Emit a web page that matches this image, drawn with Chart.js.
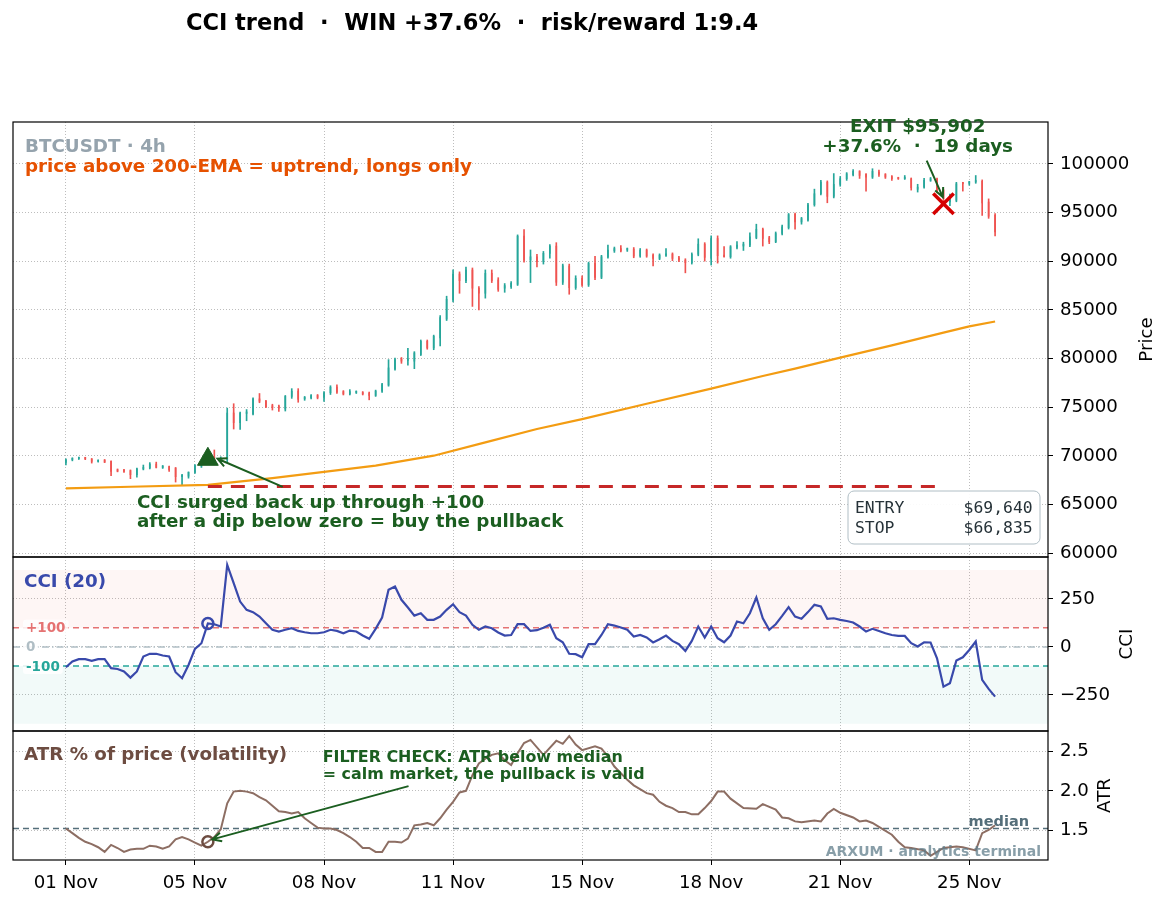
<!DOCTYPE html>
<html>
<head>
<meta charset="utf-8">
<script src="https://cdn.jsdelivr.net/npm/chart.js@4.4.1/dist/chart.umd.min.js"></script>
<style>
  html, body { margin: 0; padding: 0; background: #fff; }
  #wrap { position: relative; width: 1167px; height: 903px; }
  #title { position: absolute; left: 0; top: 8px; width: 944px; text-align: center;
           font: bold 22.5px "DejaVu Sans", sans-serif; color: #000; white-space: pre; line-height: 28px; }
  canvas { position: absolute; left: 0; top: 0; }
</style>
</head>
<body>
<div id="wrap">
  <canvas id="chart" width="1167" height="903"></canvas>
  <div id="title">CCI trend  ·  WIN +37.6%  ·  risk/reward 1:9.4</div>
</div>
<script>
// x axis: one slot per 4h candle, labelled every 20 candles
const tickIdx = [0, 20, 40, 60, 80, 100, 120, 140];
const tickLabels = ["01 Nov", "05 Nov", "08 Nov", "11 Nov", "15 Nov", "18 Nov", "21 Nov", "25 Nov"];

// BTCUSDT 4h candles
const opens = [
  69320,69590,69700,69800,69680,69420,69560,69420,68550,68520,
  68480,68050,68650,68750,69150,68800,68880,68740,67850,67900,
  68300,68950,69350,69640,69450,69600,74400,73400,74350,74300,
  75850,75600,75150,75100,74800,76100,76650,75850,75980,76200,
  75990,76480,77050,76600,76350,76500,76500,76450,76200,76650,
  77260,78900,79950,79800,79720,80400,81760,81080,82100,84050,
  86020,88680,88000,89090,87220,86700,88750,88070,87220,87390,
  87620,92570,90110,90450,89950,90800,91550,87830,89500,87280,
  88240,87560,89770,88340,90400,91060,91300,91150,91240,90520,
  91140,90620,90280,90600,90730,90350,90110,89840,90700,91750,
  90290,92330,90620,90450,91400,91550,91650,92430,93280,92400,
  91990,92840,93450,94820,94030,94200,95800,96930,98120,96660,
  97890,98470,98880,99220,98910,98640,99150,98910,98700,98530,
  98470,98470,97380,97610,98300,98470,97270,96080,96250,98050,
  98000,98130,98200,96080,94710
];
const highs = [
  69700,69800,69860,69850,69720,69560,69620,69480,68650,68600,
  68550,68750,69050,69300,69350,69000,68950,68800,68100,68350,
  69100,69500,69800,70600,69900,74900,75350,74500,74750,75950,
  76400,75700,75300,75200,76200,76900,76900,76100,76300,76300,
  76600,77200,77300,76700,76800,76650,76600,76550,76750,77450,
  79880,80050,80100,81050,80700,81900,81900,82400,84400,86400,
  89100,88900,89400,89300,87400,89100,89100,88300,87700,87900,
  92700,93250,91150,90700,91000,91700,91900,89700,89700,88500,
  88500,89900,90500,90600,91650,91450,91600,91350,91400,91300,
  91250,90750,90750,91300,90850,90500,90250,90850,92300,91900,
  92600,92600,91500,91600,92000,91950,92900,93800,93400,92550,
  93000,93700,94900,94950,94500,95950,97400,98300,98250,99000,
  98700,99100,99400,99300,99000,99500,99350,99000,98800,98600,
  98800,98550,97900,98500,98600,98550,97400,96900,98100,98100,
  98200,98800,98350,96400,94900
];
const lows = [
  69050,69480,69620,69600,69250,69350,69300,67950,68350,68300,
  67650,67800,68550,68650,68750,68700,68400,67300,66950,67700,
  68200,68800,69200,69300,69350,69300,72750,72700,73600,74200,
  75450,74950,74700,74550,74600,75900,75500,75700,75850,75850,
  75600,76300,76400,76250,76250,76400,76250,75750,76100,76500,
  77150,78800,79500,79300,78950,80300,80950,80900,81300,83900,
  85800,86700,87800,85350,85000,86200,87800,86900,86800,87200,
  87500,89900,87800,89400,89700,90300,87500,87600,86600,87100,
  87400,87400,88100,88200,90300,90900,90950,91000,90350,90400,
  90400,89500,90150,90500,90050,89950,88800,89700,90550,90000,
  89600,89800,90400,90300,91250,91100,91500,92300,91550,91800,
  91900,92700,93300,93300,93800,94100,95650,96800,96000,96500,
  97700,98300,98750,98500,97200,98500,98700,98500,98300,98400,
  98400,97300,97100,97500,98200,97000,96100,95700,96100,97200,
  97800,98000,94700,94400,92600
];
const closes = [
  69590,69700,69800,69680,69420,69480,69350,68400,68420,68400,
  68050,68650,68800,69150,68800,68880,68560,67850,67920,68300,
  69000,69350,69640,69450,69700,74400,73400,74400,74500,75850,
  75600,75050,74950,74900,76100,76640,75800,76000,76200,75990,
  76480,77050,76550,76350,76600,76520,76350,76200,76650,77330,
  79030,79880,79720,79900,80570,81760,81080,82270,84210,86090,
  88680,88000,89090,87220,86700,88750,88000,87100,87490,87730,
  92570,90110,90450,89950,90800,91550,87830,89530,87280,88240,
  87560,89770,88340,90450,91140,91300,91060,91200,90520,91140,
  90520,90280,90620,90700,90280,90110,89840,90700,91750,90390,
  92330,90560,90450,91480,91650,91750,92500,93280,92330,91990,
  92840,93520,94780,94030,94380,95800,96930,98120,96660,97890,
  98470,98980,99220,98810,98640,99220,98910,98640,98470,98470,
  98500,97550,97610,98300,98470,97200,96420,96760,97950,97950,
  98130,98300,95980,94610,93010
];

// 200-EMA read at a few candles
const emaX = [0, 10, 22, 32, 48, 57, 65, 73, 80, 90, 100, 108, 113, 120, 128, 136, 140, 144];
const emaY = [66650, 66820, 67010, 67700, 68990, 70010, 71380, 72750, 73770, 75350, 76900, 78200, 78950, 80090, 81350, 82650, 83300, 83800];

// CCI(20), one value per candle
const cci = [
  -106,-76,-64,-64,-73,-64,-64,-111,-115,-128,
  -160,-128,-50,-36,-36,-45,-50,-132,-163,-94,
  -10,19,122,118,106,427,332,236,193,181,
  158,123,89,80,89,97,83,76,71,71,
  76,89,83,71,85,80,59,42,94,153,
  297,314,245,205,163,175,141,141,158,193,
  222,181,163,115,89,106,97,75,59,62,
  118,118,83,87,100,115,45,24,-36,-38,
  -54,14,14,62,118,111,101,89,54,62,
  49,23,40,59,31,14,-21,31,106,49,
  106,45,24,59,132,123,175,257,149,89,
  118,161,207,158,146,181,219,210,146,149,
  141,135,127,106,80,94,83,71,62,57,
  57,19,2,24,23,-59,-207,-189,-71,-54,
  -16,28,-172,-219,-259
];
const cciLevels = [100, 0, -100];

// ATR % of price
const atrX = [
  0,1,2,3,4,5,6,7,8,9,10,11,12,13,14,15,16,17,18,19,20,21,22,23,24,25,26,27,28,29,
  30,31,32,33,34,35,36,37,38,39,40,41,42,43,44,45,46,47,48,49,50,51,52,53,54,55,56,57,58,59,
  60,61,62,63,64,65,66,67,68,69,70,71,72,74,76,77,78,79,80,82,83,84,85,87,88,90,91,92,93,94,
  95,96,97,98,99,100,101,102,103,105,107,108,110,111,112,113,114,116,117,118,119,120,122,123,124,
  125,126,128,129,130,131,133,134,135,136,138,139,141,142,143,144
];
const atrY = [
  1.52,1.46,1.40,1.35,1.32,1.28,1.22,1.31,1.27,1.22,1.25,1.26,1.26,1.30,1.29,1.26,1.29,1.38,1.41,1.38,1.34,1.30,1.35,1.41,1.51,1.84,1.99,2.00,1.99,1.97,
  1.92,1.88,1.81,1.74,1.73,1.71,1.73,1.65,1.59,1.53,1.52,1.52,1.50,1.46,1.41,1.35,1.27,1.27,1.22,1.22,1.35,1.35,1.34,1.39,1.56,1.57,1.59,1.56,1.65,1.76,
  1.86,1.98,2.00,2.20,2.35,2.41,2.46,2.48,2.39,2.33,2.48,2.61,2.65,2.46,2.64,2.60,2.70,2.59,2.52,2.57,2.54,2.44,2.31,2.14,2.07,1.97,1.95,1.86,1.81,1.78,
  1.73,1.73,1.70,1.70,1.78,1.87,1.99,1.99,1.90,1.78,1.77,1.83,1.76,1.66,1.65,1.61,1.60,1.62,1.61,1.71,1.77,1.72,1.66,1.61,1.62,
  1.59,1.54,1.44,1.35,1.28,1.27,1.24,1.17,1.22,1.27,1.29,1.28,1.24,1.46,1.50,1.56
];
const atrMedian = 1.52;

// trade
const entryIdx = 22, entryPrice = 69640, stopPrice = 66835;
const exitIdx = 136, exitPrice = 95902;

const FONT = '"DejaVu Sans", sans-serif';
const UP = "#26a69a", DOWN = "#ef5350";
const DARK_GREEN = "#1b5e20";
const X_MIN = -8.2, X_MAX = 152.2;
const GRID = "#bdbdbd";
const TXT = 18.3;

const candleColors = closes.map((c, i) => (c >= opens[i] ? UP : DOWN));
const wickData = closes.map((c, i) => ({ x: i, y: [lows[i], highs[i]] }));
const bodyData = closes.map((c, i) => ({ x: i, y: [opens[i], c] }));

function hline(y, axis, color, dash, width, order) {
  return {
    type: "line", yAxisID: axis, order: order,
    data: [{ x: X_MIN, y: y }, { x: X_MAX, y: y }],
    borderColor: color, borderDash: dash, borderWidth: width, pointRadius: 0,
  };
}

function arrow(ctx, x1, y1, x2, y2, color, lw) {
  const a = Math.atan2(y2 - y1, x2 - x1), h = 10;
  ctx.strokeStyle = color;
  ctx.lineWidth = lw;
  ctx.setLineDash([]);
  ctx.beginPath();
  ctx.moveTo(x1, y1);
  ctx.lineTo(x2, y2);
  ctx.moveTo(x2 - h * Math.cos(a - 0.45), y2 - h * Math.sin(a - 0.45));
  ctx.lineTo(x2, y2);
  ctx.lineTo(x2 - h * Math.cos(a + 0.45), y2 - h * Math.sin(a + 0.45));
  ctx.stroke();
}

function text(ctx, str, x, y, font, color, align) {
  ctx.font = font;
  ctx.fillStyle = color;
  ctx.textAlign = align || "left";
  ctx.textBaseline = "alphabetic";
  ctx.fillText(str, x, y);
}

const overlay = {
  id: "overlay",
  afterDraw(chart) {
    const { ctx, chartArea: ca, scales } = chart;
    const xs = scales.x, ps = scales.price, cs = scales.cci, as = scales.atr;
    const bold = "bold " + TXT + "px " + FONT;
    ctx.save();

    // panel frames
    ctx.strokeStyle = "#000";
    ctx.lineWidth = 1.2;
    [ps, cs, as].forEach((s) => ctx.strokeRect(ca.left, s.top, ca.right - ca.left, s.bottom - s.top));

    // axis titles
    [[ps, "Price", 99], [cs, "CCI", 79], [as, "ATR", 57]].forEach(([s, t, off]) => {
      ctx.save();
      ctx.translate(ca.right + off, (s.top + s.bottom) / 2);
      ctx.rotate(-Math.PI / 2);
      ctx.font = "18.2px " + FONT;
      ctx.fillStyle = "#000";
      ctx.textAlign = "center";
      ctx.textBaseline = "middle";
      ctx.fillText(t, 0, 0);
      ctx.restore();
    });

    // price panel
    text(ctx, "BTCUSDT · 4h", ca.left + 12, ps.top + 30, bold, "#95a3ad");
    text(ctx, "price above 200-EMA = uptrend, longs only", ca.left + 12, ps.top + 50, bold, "#e65100");
    text(ctx, "CCI surged back up through +100", xs.getPixelForValue(11.0), ps.bottom - 49, bold, DARK_GREEN);
    text(ctx, "after a dip below zero = buy the pullback", xs.getPixelForValue(11.0), ps.bottom - 30, bold, DARK_GREEN);
    arrow(ctx, xs.getPixelForValue(33.6), ps.getPixelForValue(66800),
      xs.getPixelForValue(23.5), ps.getPixelForValue(69700), DARK_GREEN, 2);
    const exX = xs.getPixelForValue(132);
    text(ctx, "EXIT $95,902", exX, ps.top + 10, bold, DARK_GREEN, "center");
    text(ctx, "+37.6%  ·  19 days", exX, ps.top + 30, bold, DARK_GREEN, "center");
    arrow(ctx, xs.getPixelForValue(133.4), ps.getPixelForValue(100340),
      xs.getPixelForValue(135.9), ps.getPixelForValue(96590), DARK_GREEN, 2);

    // entry / stop box
    const bx = ca.right - 200, by = ps.bottom - 66;
    ctx.beginPath();
    ctx.roundRect(bx, by, 192, 53, 6);
    ctx.fillStyle = "rgba(255,255,255,0.92)";
    ctx.fill();
    ctx.strokeStyle = "#b0bec5";
    ctx.lineWidth = 1;
    ctx.stroke();
    const mono = '16.4px "DejaVu Sans Mono", monospace';
    text(ctx, "ENTRY      $69,640", bx + 7, by + 22, mono, "#263238");
    text(ctx, "STOP       $66,835", bx + 7, by + 42, mono, "#263238");

    // CCI panel
    text(ctx, "CCI (20)", ca.left + 11, cs.top + 30, bold, "#3949ab");
    [["+100", 100, "#e57373"], ["0", 0, "#b0bec5"], ["-100", -100, "#26a69a"]].forEach(([t, v, col]) => {
      const y = cs.getPixelForValue(v);
      ctx.font = "bold 13.5px " + FONT;
      const w = ctx.measureText(t).width;
      ctx.fillStyle = "rgba(255,255,255,0.85)";
      ctx.beginPath();
      ctx.roundRect(ca.left + 10, y - 8, w + 6, 16, 3);
      ctx.fill();
      ctx.fillStyle = col;
      ctx.textAlign = "left";
      ctx.textBaseline = "middle";
      ctx.fillText(t, ca.left + 13, y + 1);
    });

    // ATR panel
    text(ctx, "ATR % of price (volatility)", ca.left + 11, as.top + 29, bold, "#6d4c41");
    const fx = xs.getPixelForValue(39.8);
    text(ctx, "FILTER CHECK: ATR below median", fx, as.top + 31, "bold 15.9px " + FONT, DARK_GREEN);
    text(ctx, "= calm market, the pullback is valid", fx, as.top + 48, "bold 15.9px " + FONT, DARK_GREEN);
    arrow(ctx, xs.getPixelForValue(53.1), as.getPixelForValue(2.06),
      xs.getPixelForValue(22.7), as.getPixelForValue(1.38), DARK_GREEN, 2);
    text(ctx, "median", ca.right - 19, as.getPixelForValue(atrMedian) - 2, "bold 14.5px " + FONT, "#546e7a", "right");
    text(ctx, "ARXUM · analytics terminal", ca.right - 7, as.bottom - 4, "bold 14px " + FONT, "rgba(96,125,139,0.75)", "right");

    ctx.restore();
  },
};

function yScale(weight, min, max, ticks, fmt) {
  return {
    type: "linear", position: "right", stack: "panels", stackWeight: weight,
    min: min, max: max,
    afterBuildTicks: (s) => { s.ticks = ticks.map((v) => ({ value: v })); },
    afterFit: (s) => { s.width = 119; },
    ticks: { callback: fmt, font: { family: FONT, size: 18.2 }, color: "#000", padding: 7 },
    grid: { color: GRID, lineWidth: 1, tickColor: "#000", tickLength: 5, tickWidth: 1 },
    border: { display: false, dash: [1, 2] },
  };
}

new Chart(document.getElementById("chart"), {
  type: "line",
  data: {
    datasets: [
      // price panel
      { type: "scatter", yAxisID: "price", order: 0, data: [{ x: entryIdx, y: entryPrice }],
        pointStyle: "triangle", pointRadius: 12, backgroundColor: DARK_GREEN, borderColor: DARK_GREEN, borderWidth: 1 },
      { type: "scatter", yAxisID: "price", order: 0, data: [{ x: exitIdx, y: exitPrice }],
        pointStyle: "crossRot", pointRadius: 14.5, borderColor: "#d50000", borderWidth: 3.5 },
      { type: "line", yAxisID: "price", order: 1,
        data: [{ x: entryIdx, y: stopPrice }, { x: exitIdx, y: stopPrice }],
        borderColor: "#c62828", borderWidth: 3, borderDash: [14, 9], pointRadius: 0 },
      { type: "line", yAxisID: "price", order: 2,
        data: emaX.map((x, k) => ({ x: x, y: emaY[k] })),
        borderColor: "#f39c12", borderWidth: 2.2, pointRadius: 0 },
      { type: "bar", yAxisID: "price", order: 3, data: bodyData, backgroundColor: candleColors,
        grouped: false, barThickness: 1, maxBarThickness: 4.6, minBarLength: 1.5 },
      { type: "bar", yAxisID: "price", order: 4, data: wickData, backgroundColor: candleColors,
        grouped: false, barThickness: 1, maxBarThickness: 1 },

      // CCI panel
      { type: "scatter", yAxisID: "cci", order: 0, data: [{ x: entryIdx, y: cci[entryIdx] }],
        pointStyle: "circle", pointRadius: 5.5, backgroundColor: "rgba(0,0,0,0)", borderColor: "#3949ab", borderWidth: 2.5 },
      { type: "line", yAxisID: "cci", order: 1, data: cci.map((v, i) => ({ x: i, y: v })),
        borderColor: "#3949ab", borderWidth: 2.2, pointRadius: 0 },
      hline(cciLevels[0], "cci", "#e57373", [6, 4], 1.5, 5),
      hline(cciLevels[1], "cci", "#b0bec5", [7, 3, 1.5, 3], 1.5, 5),
      hline(cciLevels[2], "cci", "#26a69a", [6, 4], 1.5, 5),
      { type: "line", yAxisID: "cci", order: 9, data: [{ x: X_MIN, y: 400 }, { x: X_MAX, y: 400 }],
        borderWidth: 0, pointRadius: 0, fill: { value: cciLevels[0] }, backgroundColor: "rgba(239,83,80,0.055)" },
      { type: "line", yAxisID: "cci", order: 9, data: [{ x: X_MIN, y: -400 }, { x: X_MAX, y: -400 }],
        borderWidth: 0, pointRadius: 0, fill: { value: cciLevels[2] }, backgroundColor: "rgba(38,166,154,0.06)" },

      // ATR panel
      { type: "scatter", yAxisID: "atr", order: 0, data: [{ x: entryIdx, y: atrY[atrX.indexOf(entryIdx)] }],
        pointStyle: "circle", pointRadius: 5.5, backgroundColor: "rgba(0,0,0,0)", borderColor: "#6d4c41", borderWidth: 2.5 },
      { type: "line", yAxisID: "atr", order: 1, data: atrX.map((x, k) => ({ x: x, y: atrY[k] })),
        borderColor: "#8d6e63", borderWidth: 2, pointRadius: 0 },
      hline(atrMedian, "atr", "#546e7a", [6, 4], 1.5, 2),
    ],
  },
  options: {
    responsive: false,
    animation: false,
    devicePixelRatio: 1,
    events: [],
    layout: { autoPadding: false, padding: { left: 13, top: 122, right: 0, bottom: 0 } },
    plugins: { legend: { display: false }, tooltip: { enabled: false } },
    scales: {
      x: {
        type: "linear", min: X_MIN, max: X_MAX, offset: false,
        afterBuildTicks: (s) => { s.ticks = tickIdx.map((v) => ({ value: v })); },
        afterFit: (s) => { s.height = 43; s.paddingLeft = 0; s.paddingRight = 0; },
        ticks: { callback: (v) => tickLabels[tickIdx.indexOf(v)], font: { family: FONT, size: 18.2 },
                 color: "#000", padding: 7, maxRotation: 0, autoSkip: false },
        grid: { offset: false, color: GRID, lineWidth: 1, tickColor: "#000", tickLength: 5, tickWidth: 1 },
        border: { display: false, dash: [1, 2] },
      },
      price: yScale(435, 59600, 104300, [60000, 65000, 70000, 75000, 80000, 85000, 90000, 95000, 100000], (v) => String(v)),
      cci: yScale(174, -438, 468, [-250, 0, 250], (v) => (v < 0 ? "\u2212" + Math.abs(v) : String(v))),
      atr: yScale(129, 1.117, 2.764, [1.5, 2.0, 2.5], (v) => v.toFixed(1)),
    },
  },
  plugins: [overlay],
});
</script>
</body>
</html>
